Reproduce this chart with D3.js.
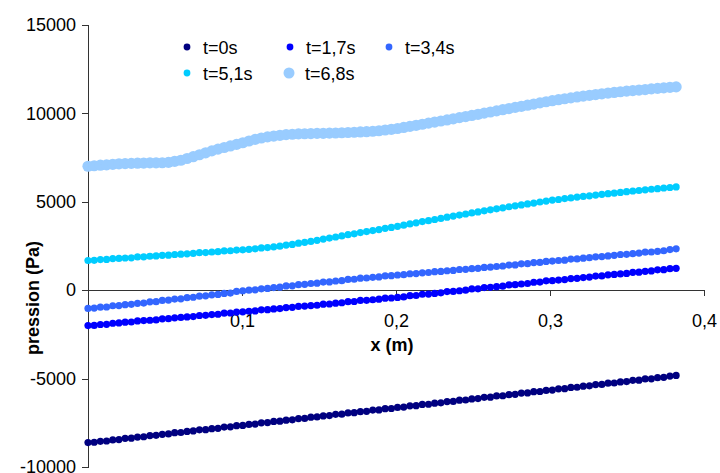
<!DOCTYPE html>
<html><head><meta charset="utf-8">
<script src="https://cdn.jsdelivr.net/npm/d3@7"></script>
<style>
html,body{margin:0;padding:0;background:#fff;}
svg text{font-family:"Liberation Sans",Arial,sans-serif;}
</style></head>
<body><svg id="c" width="720" height="473"></svg>
<script>
// ---- data ----
const seriesNames = ["t=0s","t=1,7s","t=3,4s","t=5,1s","t=6,8s"];
const seriesColors = ["#000080","#0000FF","#3366FF","#00CCFF","#99CCFF"];
const xPos = [0,0.00402,0.00804,0.01206,0.01608,0.0201,0.02412,0.02814,0.03216,0.03618,
0.0402,0.04422,0.04824,0.05226,0.05628,0.0603,0.06432,0.06834,0.07236,0.07638,
0.0804,0.08442,0.08844,0.09246,0.09648,0.1005,0.10452,0.10854,0.11256,0.11658,
0.1206,0.12462,0.12864,0.13266,0.13668,0.1407,0.14472,0.14874,0.15276,0.15678,
0.1608,0.16482,0.16884,0.17286,0.17688,0.1809,0.18492,0.18894,0.19296,0.19698,
0.201,0.20502,0.20904,0.21306,0.21708,0.2211,0.22512,0.22914,0.23316,0.23718,
0.2412,0.24522,0.24924,0.25326,0.25728,0.2613,0.26532,0.26934,0.27336,0.27738,
0.2814,0.28542,0.28944,0.29346,0.29748,0.3015,0.30552,0.30954,0.31356,0.31758,
0.3216,0.32562,0.32964,0.33366,0.33768,0.3417,0.34572,0.34974,0.35376,0.35778,
0.3618,0.36582,0.36984,0.37386,0.37788,0.3819];
const p_t0 = [-8620,-8600,-8550,-8530,-8470,-8450,-8380,-8370,-8310,-8290,
-8220,-8210,-8150,-8130,-8060,-8050,-7990,-7960,-7900,-7890,
-7830,-7810,-7740,-7730,-7660,-7650,-7590,-7570,-7500,-7490,
-7420,-7410,-7350,-7330,-7260,-7250,-7180,-7170,-7110,-7090,
-7020,-7010,-6940,-6930,-6870,-6850,-6780,-6770,-6700,-6690,
-6630,-6610,-6540,-6530,-6460,-6450,-6390,-6370,-6300,-6290,
-6220,-6210,-6150,-6130,-6060,-6050,-5980,-5970,-5910,-5890,
-5820,-5810,-5740,-5730,-5670,-5650,-5580,-5570,-5500,-5490,
-5430,-5410,-5340,-5330,-5260,-5250,-5190,-5170,-5100,-5090,
-5020,-5010,-4950,-4930,-4860,-4820];
const p_t17 = [-2000,-1990,-1940,-1930,-1870,-1850,-1810,-1800,-1740,-1720,
-1700,-1680,-1620,-1610,-1560,-1540,-1510,-1490,-1430,-1420,
-1380,-1360,-1300,-1290,-1240,-1225,-1190,-1170,-1110,-1100,
-1060,-1040,-980,-970,-910,-900,-870,-850,-790,-780,
-735,-710,-650,-640,-580,-570,-540,-510,-450,-440,
-410,-380,-310,-300,-230,-220,-180,-150,-80,-70,
-30,0,70,80,150,160,200,230,300,310,
350,380,450,460,530,540,570,600,660,670,
715,740,800,810,870,890,920,950,1010,1020,
1065,1090,1150,1160,1220,1240];
const p_t34 = [-1030,-1010,-960,-950,-880,-870,-820,-800,-740,-730,
-660,-650,-580,-560,-500,-490,-420,-400,-340,-320,
-260,-240,-180,-160,-70,-30,0,20,80,100,
150,170,240,250,310,330,380,400,460,470,
520,540,610,620,680,690,730,750,810,820,
860,880,930,940,980,1000,1050,1060,1100,1120,
1170,1180,1220,1240,1290,1300,1340,1370,1420,1430,
1490,1500,1560,1570,1630,1650,1680,1700,1760,1770,
1810,1840,1890,1900,1940,1970,2020,2030,2070,2100,
2150,2160,2200,2230,2300,2340];
const p_t51 = [1680,1690,1730,1740,1790,1800,1820,1830,1880,1890,
1920,1940,1970,1980,2020,2040,2060,2080,2120,2130,
2160,2180,2220,2230,2270,2285,2310,2340,2390,2410,
2455,2490,2550,2590,2660,2710,2760,2820,2890,2950,
3010,3070,3140,3190,3260,3315,3370,3430,3500,3550,
3615,3680,3750,3810,3880,3935,4000,4060,4130,4190,
4250,4310,4370,4430,4490,4545,4600,4660,4720,4770,
4825,4880,4930,4990,5040,5095,5130,5180,5220,5270,
5305,5340,5380,5420,5460,5490,5530,5570,5610,5640,
5675,5710,5740,5780,5810,5840];
const p_t68 = [7010,7040,7070,7090,7120,7150,7160,7175,7185,7190,
7200,7205,7210,7230,7290,7350,7450,7550,7660,7770,
7880,7980,8070,8160,8250,8340,8440,8530,8610,8670,
8720,8760,8800,8820,8840,8850,8860,8870,8875,8885,
8890,8905,8920,8935,8950,8965,8990,9020,9060,9100,
9145,9205,9265,9325,9385,9450,9510,9570,9630,9695,
9760,9820,9885,9950,10015,10080,10145,10210,10275,10340,
10400,10465,10530,10595,10660,10720,10775,10830,10880,10930,
10980,11025,11065,11110,11150,11185,11225,11260,11290,11320,
11350,11385,11415,11445,11475,11500];
const xTickValues = [0.1,0.2,0.3,0.4];
const xTickLabels = ["0,1","0,2","0,3","0,4"];
const yTickValues = [15000,10000,5000,0,-5000,-10000];
const yTickLabels = ["15000","10000","5000","0","-5000","-10000"];
const xTitle = "x (m)";
const yTitle = "pression (Pa)";

// ---- drawing ----
const series = [p_t0,p_t17,p_t34,p_t51,p_t68];
const radii = [3.6,3.6,3.6,3.6,5.6];
const svg = d3.select("#c");
const x = d3.scaleLinear().domain([0,0.4]).range([88,704]);
const y = d3.scaleLinear().domain([-10000,15000]).range([467,25]);

const yAxis = svg.append("g").attr("transform","translate(88,0)")
  .call(d3.axisLeft(y).tickValues(yTickValues).tickFormat((d,i)=>yTickLabels[i]).tickSize(6).tickPadding(6));
const xAxis = svg.append("g").attr("transform",`translate(0,${y(0)})`)
  .call(d3.axisBottom(x).tickValues(xTickValues).tickFormat((d,i)=>xTickLabels[i]).tickSize(6).tickSizeOuter(0).tickPadding(18));
[yAxis,xAxis].forEach(g=>{
  g.selectAll("path,line").attr("stroke","#333").attr("stroke-width",1).attr("shape-rendering","crispEdges");
  g.selectAll("text").attr("font-size",18).attr("fill","#000").attr("font-family","Liberation Sans, Arial, sans-serif");
});
xAxis.select(".domain").attr("d",`M${x(0)},0H${x(0.4)}`);

series.forEach((vals,si)=>{
  svg.append("g").selectAll("circle").data(vals).join("circle")
    .attr("cx",(d,i)=>x(xPos[i])).attr("cy",d=>y(d)).attr("r",radii[si])
    .attr("fill",seriesColors[si]);
});

svg.append("text").attr("x",392).attr("y",351).attr("text-anchor","middle")
  .attr("font-size",18).attr("font-weight","bold").text(xTitle);
svg.append("text").attr("transform","translate(39,298) rotate(-90)").attr("text-anchor","middle")
  .attr("font-size",18).attr("font-weight","bold").text(yTitle);

// legend
const legPos = [[187,47],[290,47],[389,47],[187,73],[289,73]];
const lg = svg.append("g");
seriesNames.forEach((n,i)=>{
  lg.append("circle").attr("cx",legPos[i][0]).attr("cy",legPos[i][1]).attr("r",i===4?5.5:3.4).attr("fill",seriesColors[i]);
  lg.append("text").attr("x",legPos[i][0]+16).attr("y",legPos[i][1]+6.5).attr("font-size",18).attr("fill","#000").text(n);
});
</script></body></html>
